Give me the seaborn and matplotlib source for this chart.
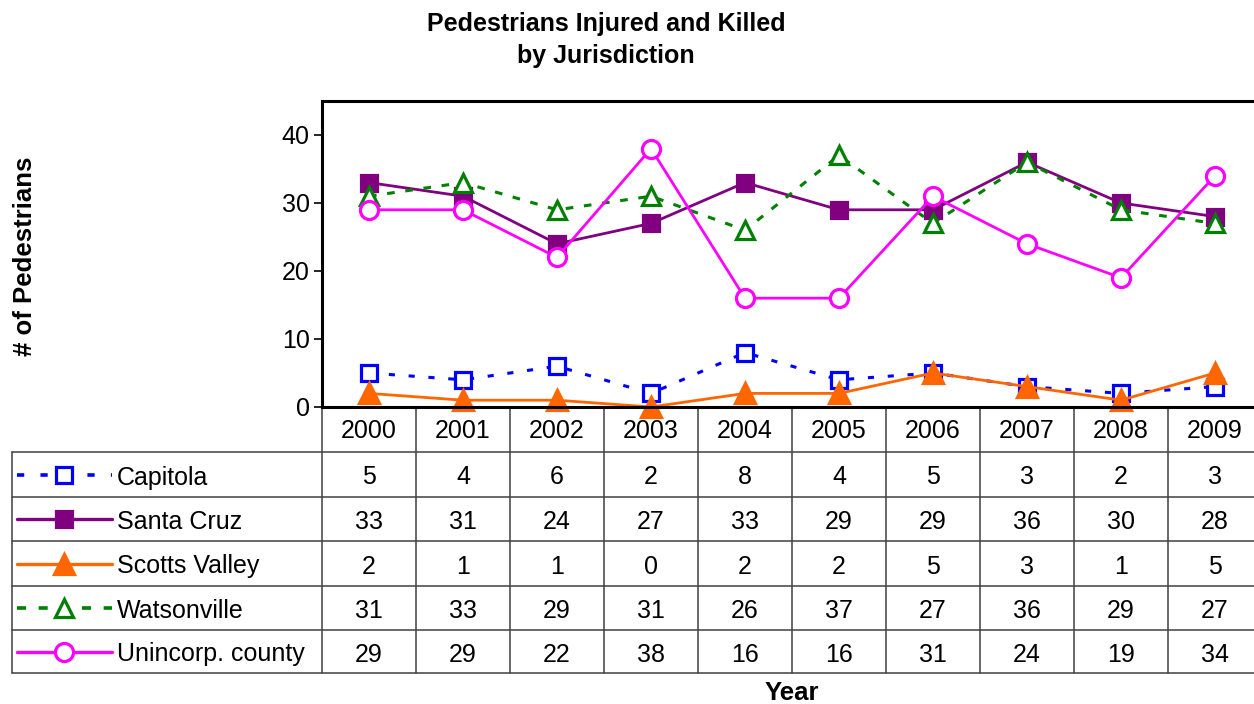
import numpy as np
import pandas as pd
import matplotlib
matplotlib.use("Agg")
import matplotlib.pyplot as plt
import matplotlib.transforms as mtransforms
from matplotlib.lines import Line2D
import seaborn as sns

years = ["2000", "2001", "2002", "2003", "2004", "2005", "2006", "2007", "2008", "2009"]
capitola = [5, 4, 6, 2, 8, 4, 5, 3, 2, 3]
santa_cruz = [33, 31, 24, 27, 33, 29, 29, 36, 30, 28]
scotts_valley = [2, 1, 1, 0, 2, 2, 5, 3, 1, 5]
watsonville = [31, 33, 29, 31, 26, 37, 27, 36, 29, 27]
unincorp = [29, 29, 22, 38, 16, 16, 31, 24, 19, 34]
series_names = ["Capitola", "Santa Cruz", "Scotts Valley", "Watsonville", "Unincorp. county"]
series_values = [capitola, santa_cruz, scotts_valley, watsonville, unincorp]
yticks = [0, 10, 20, 30, 40]

styles = [
    dict(color="#0000FF", marker="s", linestyle=(0, (2.0, 4.5)), mfc="white", ms=12, lw=2.2),
    dict(color="#800080", marker="s", linestyle="-", mfc="#800080", ms=12, lw=2.0),
    dict(color="#FF6600", marker="^", linestyle="-", mfc="#FF6600", ms=14, lw=2.0),
    dict(color="#008000", marker="^", linestyle=(0, (2.5, 3.5)), mfc="white", ms=13, lw=2.2),
    dict(color="#FF00FF", marker="o", linestyle="-", mfc="white", ms=13, lw=2.0),
]

sns.set_theme(style="white")
plt.rcParams["font.family"] = ["Liberation Sans", "DejaVu Sans"]
plt.rcParams["text.color"] = "black"
plt.rcParams["axes.labelcolor"] = "black"
plt.rcParams["xtick.color"] = "black"
plt.rcParams["ytick.color"] = "black"

W, H = 1254, 704
fig = plt.figure(figsize=(W / 100, H / 100), dpi=100)

left, right, top, bottom = 322, 1262, 101, 407
ax = fig.add_axes([left / W, 1 - bottom / H, (right - left) / W, (bottom - top) / H])

x = np.arange(len(years))
for name, vals, st in zip(series_names, series_values, styles):
    df = pd.DataFrame({"x": x, "y": vals})
    sns.lineplot(data=df, x="x", y="y", ax=ax, color=st["color"], marker=st["marker"],
                 linestyle=st["linestyle"], markerfacecolor=st["mfc"], markeredgecolor=st["color"],
                 markersize=st["ms"], markeredgewidth=2.3, linewidth=st["lw"], clip_on=False,
                 legend=False)

ax.set_xlim(-0.5, len(years) - 0.5)
ax.set_ylim(0, 45)
ax.set_yticks(yticks)
ax.set_yticklabels([str(t) for t in yticks], fontsize=18)
ax.set_xticks([])
ax.set_xlabel("")
ax.set_ylabel("")
ax.tick_params(axis="y", direction="out", length=6, width=1.2, color="black", pad=3, left=True,
               labelcolor="black")
for s in ["left", "top", "bottom"]:
    ax.spines[s].set_visible(True)
    ax.spines[s].set_color("black")
    ax.spines[s].set_linewidth(2.2)
ax.spines["right"].set_visible(False)
ax.patch.set_alpha(0)

tab = fig.add_axes([0, 0, 1, 1], zorder=-1)
tab.set_xlim(0, W)
tab.set_ylim(H, 0)
tab.axis("off")
trans = mtransforms.blended_transform_factory(ax.transData, tab.transData)

row_edges = [407, 452, 497, 541, 586, 630, 673]
grid_col = "#404040"
for k in range(len(years) + 1):
    tab.plot([k - 0.5, k - 0.5], [row_edges[0], row_edges[-1]], color=grid_col, lw=1.1,
             transform=trans, clip_on=False)
tab.plot([12, 12], [row_edges[1], row_edges[-1]], color=grid_col, lw=1.1)
for ye in row_edges[1:]:
    tab.plot([12, W + 10], [ye, ye], color=grid_col, lw=1.1, clip_on=False)

for i, yr in enumerate(years):
    tab.text(i, (row_edges[0] + row_edges[1]) / 2 + 2, yr, transform=trans, ha="center",
             va="center", fontsize=18)

for r, (name, vals, st) in enumerate(zip(series_names, series_values, styles)):
    yc = (row_edges[r + 1] + row_edges[r + 2]) / 2 + 3
    for i, v in enumerate(vals):
        tab.text(i, yc, str(v), transform=trans, ha="center", va="center", fontsize=18)
    tab.add_line(Line2D([17, 112], [yc - 3, yc - 3], color=st["color"], linestyle=st["linestyle"],
                        lw=st["lw"] + 0.4))
    tab.add_line(Line2D([64], [yc - 3], color=st["color"], marker=st["marker"],
                        markerfacecolor=st["mfc"], markeredgecolor=st["color"],
                        markersize=st["ms"], markeredgewidth=2.3, linestyle="none"))
    tab.text(117, yc, name, ha="left", va="center", fontsize=18)

fig.text(606 / W, 1 - 40 / H, "Pedestrians Injured and Killed\nby Jurisdiction", ha="center",
         va="center", fontsize=18, fontweight="bold", linespacing=1.45)
fig.text(25 / W, 1 - 256 / H, "# of Pedestrians", rotation=90, ha="center", va="center",
         fontsize=18.5, fontweight="bold")
fig.text(792 / W, 1 - 693 / H, "Year", ha="center", va="center", fontsize=18.5, fontweight="bold")

fig.savefig("out.png", dpi=100)
